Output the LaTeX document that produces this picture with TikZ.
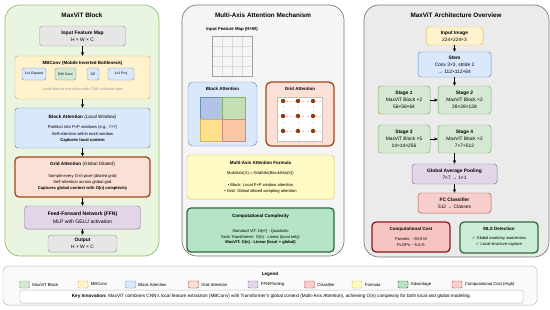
\documentclass[tikz,border=0pt]{standalone}
\usepackage{fontspec}
\setmainfont{Liberation Sans}
\newfontfamily\ckfont{DejaVu Sans}
\usepackage{tikz}
\usetikzlibrary{arrows.meta,positioning}

\definecolor{blkF}{HTML}{E9F5E1}
\definecolor{blkD}{HTML}{8CBF72}
\definecolor{midF}{HTML}{F5F5F5}
\definecolor{ovF}{HTML}{EBEBEB}
\definecolor{edgeD}{HTML}{7A7A7A}
\definecolor{grF}{HTML}{E6E6E6}
\definecolor{grD}{HTML}{9E9E9E}
\definecolor{mbF}{HTML}{FFF2CC}
\definecolor{mbD}{HTML}{D6B656}
\definecolor{baF}{HTML}{DAE8FC}
\definecolor{baD}{HTML}{6C8EBF}
\definecolor{gaF}{HTML}{FCE0D6}
\definecolor{gaD}{HTML}{A0441F}
\definecolor{ffF}{HTML}{E1D5E7}
\definecolor{ffD}{HTML}{9673A6}
\definecolor{stF}{HTML}{D5E8D4}
\definecolor{stD}{HTML}{82B366}
\definecolor{clF}{HTML}{F8CECC}
\definecolor{clD}{HTML}{B85450}
\definecolor{fmF}{HTML}{FFF9C4}
\definecolor{fmD}{HTML}{D6C656}
\definecolor{adF}{HTML}{B5E5C6}
\definecolor{adD}{HTML}{2E6B3A}
\definecolor{coF}{HTML}{F6C5C2}
\definecolor{coD}{HTML}{8B1A1A}
\definecolor{dotC}{HTML}{8B3A12}
\definecolor{txG}{HTML}{9A9A9A}
\definecolor{qA}{HTML}{B4C2E8}
\definecolor{qB}{HTML}{C5DFB4}
\definecolor{qC}{HTML}{FFE08C}
\definecolor{qD}{HTML}{F9C6A6}

\begin{document}
\begin{tikzpicture}[x=0.5mm, y=-0.5mm,
  panel/.style={draw, rounded corners=7.5mm, line width=1pt, inner sep=0pt},
  box/.style={draw, rounded corners=1.5mm, align=center, inner sep=0pt, line width=0.7pt},
  heavy/.style={box, rounded corners=2mm, line width=1.8pt},
  sub/.style={box, draw=baD, minimum height=6mm, rounded corners=0.8mm, font=\fontsize{4.9}{5}\selectfont},
  ptitle/.style={font=\fontsize{9}{10}\selectfont\bfseries},
  btitle/.style={font=\fontsize{6.4}{7}\selectfont\bfseries},
  body/.style={align=center, inner sep=0pt, font=\fontsize{5.9}{8.6}\selectfont},
  arch/.style={box, font=\fontsize{6.9}{9.8}\selectfont},
  sw/.style={draw, minimum width=5mm, minimum height=3.5mm, inner sep=0pt, rounded corners=0.5mm, line width=0.6pt},
  lgtxt/.style={font=\fontsize{6}{7}\selectfont, inner sep=0pt, xshift=1.3mm},
  arr/.style={-{Stealth[length=1.8mm,width=1.6mm]}, line width=0.6pt}]

  \useasboundingbox[fill=white] (0,0) rectangle (550,309);

  % left panel: one block
  \node[panel, fill=blkF, draw=blkD, minimum width=77mm, minimum height=125.5mm] (pL) at (82,130.5) {};
  \node[ptitle] (tL) at (82,15) {MaxViT Block};
  \node[box, fill=grF, draw=grD, minimum width=43mm, minimum height=10mm, font=\fontsize{7}{9.5}\selectfont] (in) at (82.5,36) {\textbf{Input Feature Map}\\H × W × C};
  \node[box, fill=mbF, draw=mbD, minimum width=67.5mm, minimum height=21.5mm] (mb) at (82.5,77.5) {};
  \node[btitle] (mbt) at (82.5,63) {MBConv (Mobile Inverted Bottleneck)};
  \node[sub, fill=baF, minimum width=12mm] (e1) at (34,74) {1x1 Expand};
  \node[sub, fill=stF, minimum width=10.5mm] (dw) at (65.5,74) {DW Conv};
  \node[sub, fill=baF, minimum width=6mm] (se) at (93,74) {SE};
  \node[sub, fill=baF, minimum width=13mm] (pj) at (121,74) {1x1 Proj};
  \node[body, text=txG, font=\fontsize{5.4}{6}\selectfont] (mbc) at (82.5,89) {Local feature extraction with CNN inductive bias};
  \node[box, fill=baF, draw=baD, minimum width=67.5mm, minimum height=20mm] (ba) at (82.5,128) {};
  \node[body, font=\fontsize{6.6}{7}\selectfont] (bat) at (82.5,117) {\textbf{Block Attention} (Local Window)};
  \node[body, font=\fontsize{5.9}{9.3}\selectfont] (bab) at (82.5,134) {Partition into P×P windows (e.g., 7×7)\\Self-attention within each window\\\textbf{Captures local context}};
  \node[heavy, fill=gaF, draw=gaD, minimum width=67.5mm, minimum height=20mm] (ga) at (82.5,177) {};
  \node[body, font=\fontsize{6.6}{7}\selectfont] (gat) at (82.5,164) {\textbf{Grid Attention} (Global Dilated)};
  \node[body, font=\fontsize{5.9}{8.2}\selectfont] (gab) at (82.5,182.5) {Sample every G-th pixel (dilated grid)\\Self-attention across global grid\\\textbf{Captures global context with O(n) complexity}};
  \node[box, fill=ffF, draw=ffD, minimum width=58mm, minimum height=11.5mm, font=\fontsize{7.2}{11}\selectfont] (ffn) at (82.5,217.5) {\textbf{Feed-Forward Network (FFN)}\\MLP with GELU activation};
  \node[box, fill=grF, draw=grD, minimum width=34.5mm, minimum height=8.5mm, font=\fontsize{6.9}{9.8}\selectfont] (out) at (82.5,243.5) {\textbf{Output}\\H × W × C};
  \draw[arr] (in) -- (mb);
  \draw[arr] (mb) -- (ba);
  \draw[arr] (ba) -- (ga);
  \draw[arr] (ga) -- (ffn);
  \draw[arr] (ffn) -- (out);

  % middle panel: multi-axis attention
  \node[panel, fill=midF, draw=edgeD, minimum width=81mm, minimum height=125.5mm] (pM) at (263,130.5) {};
  \node[ptitle] (tM) at (263,15) {Multi-Axis Attention Mechanism};
  \node[btitle, font=\fontsize{6.2}{7}\selectfont\bfseries] (ifm) at (232,29) {Input Feature Map (H×W)};
  \foreach \i in {1,2,3} {
    \draw[gray!30, line width=0.5pt] (212+10*\i,36) -- (212+10*\i,76);
    \draw[gray!30, line width=0.5pt] (212,36+10*\i) -- (252,36+10*\i);
  }
  \draw[gray!75, line width=0.7pt] (212,36) rectangle (252,76);
  \node[box, rounded corners=2.5mm, fill=baF, draw=baD, minimum width=34.5mm, minimum height=32mm] (bA) at (222.5,114) {};
  \node[btitle] (bAt) at (222.5,89) {Block Attention};
  \draw[fill=qA, draw=baD, line width=0.6pt] (200,97) rectangle (222.5,119);
  \draw[fill=qB, draw=stD, line width=0.6pt] (222.5,97) rectangle (245,119);
  \draw[fill=qC, draw=mbD, line width=0.6pt] (200,119) rectangle (222.5,141);
  \draw[fill=qD, draw=clD!70, line width=0.6pt] (222.5,119) rectangle (245,141);
  \node[heavy, rounded corners=2.5mm, fill=gaF, draw=gaD, minimum width=34mm, minimum height=32mm] (gA) at (300,114) {};
  \node[btitle] (gAt) at (300,89) {Grid Attention};
  \draw[fill=white, draw=gray!50, line width=0.5pt] (277,97) rectangle (322,141);
  \foreach \y in {101,116,131}
    \draw[red!30, dashed, line width=0.8pt] (277,\y) -- (322,\y);
  \foreach \x in {283,298,313}
    \draw[red!15, dashed, line width=0.8pt] (\x,97) -- (\x,141);
  \foreach \x in {283,298,313}
    \foreach \y in {101,116,131}
      \fill[dotC] (\x,\y) circle[radius=1.1mm];
  \node[box, fill=fmF, draw=fmD, minimum width=73.5mm, minimum height=22mm] (fm) at (260.5,177) {};
  \node[btitle] (fmt) at (260.5,163) {Multi-Axis Attention Formula};
  \node[body, font=\fontsize{5.8}{6}\selectfont] (fmx) at (260.5,173.5) {MultiAxis(X) = GridAttn(BlockAttn(X))};
  \node[body, font=\fontsize{5.8}{8.4}\selectfont] (fmb) at (260.5,188) {• Block: Local P×P window attention\\• Grid: Global dilated sampling attention};
  \node[heavy, fill=adF, draw=adD, minimum width=73.5mm, minimum height=22mm] (cc) at (260.5,230) {};
  \node[btitle] (cct) at (260.5,216) {Computational Complexity};
  \node[body, font=\fontsize{5.8}{8.4}\selectfont] (ccb) at (260.5,237) {Standard ViT: O(n²) - Quadratic\\Swin Transformer: O(n) - Linear (local only)\\\textbf{MaxViT: O(n) - Linear (local + global)}};

  % right panel: architecture
  \node[panel, fill=ovF, draw=edgeD, minimum width=92.5mm, minimum height=126mm] (pR) at (456.5,131) {};
  \node[ptitle] (tR) at (456,15) {MaxViT Architecture Overview};
  \node[arch, fill=mbF, draw=mbD, minimum width=28.5mm, minimum height=9mm] (img) at (454.5,36) {\textbf{Input Image}\\224×224×3};
  \node[arch, fill=baF, draw=baD, minimum width=36.5mm, minimum height=12.5mm] (stem) at (454.5,64.5) {\textbf{Stem}\\Conv 3×3, stride 2\\→ 112×112×64};
  \node[arch, fill=stF, draw=stD, minimum width=26mm, minimum height=14mm] (s1) at (404,100) {\textbf{Stage 1}\\MaxViT Block ×2\\56×56×64};
  \node[arch, fill=stF, draw=stD, minimum width=26.5mm, minimum height=14mm] (s2) at (464.5,100) {\textbf{Stage 2}\\MaxViT Block ×2\\28×28×128};
  \node[arch, fill=stF, draw=stD, minimum width=26mm, minimum height=14mm] (s3) at (404,139) {\textbf{Stage 3}\\MaxViT Block ×5\\14×14×256};
  \node[arch, fill=stF, draw=stD, minimum width=26.5mm, minimum height=14mm] (s4) at (464.5,139) {\textbf{Stage 4}\\MaxViT Block ×2\\7×7×512};
  \node[arch, fill=ffF, draw=ffD, minimum width=42.5mm, minimum height=10mm] (gap) at (454.5,174) {\textbf{Global Average Pooling}\\7×7 → 1×1};
  \node[arch, fill=clF, draw=clD, minimum width=36.5mm, minimum height=10mm] (fc) at (454.5,203) {\textbf{FC Classifier}\\512 → Classes};
  \node[heavy, fill=coF, draw=coD, minimum width=39mm, minimum height=15mm] (cost) at (411,237) {};
  \node[btitle] (costt) at (411,229) {Computational Cost};
  \node[body, font=\fontsize{5.8}{8.4}\selectfont] (costb) at (411,242) {Params: \textasciitilde30.9 M\\FLOPs: \textasciitilde5.6 G};
  \node[heavy, fill=adF!70, draw=adD, minimum width=39mm, minimum height=15.5mm] (mls) at (499,237.5) {};
  \node[btitle] (mlst) at (499,229) {MLS Detection};
  \node[body, font=\fontsize{5.8}{8.4}\selectfont] (mlsb) at (499,241) {{\ckfont ✓} Global anatomy awareness\\{\ckfont ✓} Local structure capture};
  \draw[arr] (img) -- (stem);
  \draw[arr] (stem.south) -- (stem.south |- s2.north);
  \draw[arr] (s1) -- (s2);
  \draw[arr] (s3) -- (s4);
  \draw[arr] (gap.north |- s4.south) -- (gap);
  \draw[arr] (gap) -- (fc);

  % legend
  \node[box, rounded corners=2.5mm, fill=gray!4, draw=gray!55, minimum width=267mm, minimum height=19.5mm] (lg) at (270,285.5) {};
  \node[font=\fontsize{6.5}{7}\selectfont\bfseries] (lgt) at (270,274) {Legend};
  \node[sw, fill=stF, draw=stD, label={[lgtxt]right:MaxViT Block}] (k1) at (24.5,284.5) {};
  \node[sw, fill=mbF, draw=mbD, label={[lgtxt]right:MBConv}] (k2) at (83,284.5) {};
  \node[sw, fill=baF, draw=baD, label={[lgtxt]right:Block Attention}] (k3) at (130.5,284.5) {};
  \node[sw, fill=gaF, draw=gaD, label={[lgtxt]right:Grid Attention}] (k4) at (193.5,284.5) {};
  \node[sw, fill=ffF, draw=ffD, label={[lgtxt]right:FFN/Pooling}] (k5) at (253,284.5) {};
  \node[sw, fill=clF, draw=clD, label={[lgtxt]right:Classifier}] (k6) at (309.5,284.5) {};
  \node[sw, fill=fmF, draw=fmD, label={[lgtxt]right:Formula}] (k7) at (357,284.5) {};
  \node[sw, fill=adF, draw=adD, label={[lgtxt]right:Advantage}] (k8) at (403,284.5) {};
  \node[sw, fill=clF, draw=clD, label={[lgtxt]right:Computational Cost (High)}] (k9) at (457,284.5) {};
  \node[box, rounded corners=1mm, fill=white, draw=gray!55, minimum width=251.5mm, minimum height=6.5mm, font=\fontsize{6.6}{7}\selectfont] (ki) at (271.5,296.5) {\textbf{Key Innovation:} MaxViT combines CNN's local feature extraction (MBConv) with Transformer's global context (Multi-Axis Attention), achieving O(n) complexity for both local and global modeling.};
\end{tikzpicture}
\end{document}
